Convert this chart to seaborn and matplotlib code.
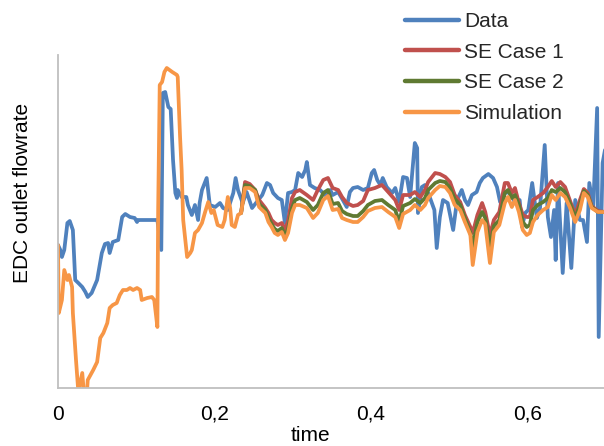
import numpy as np
import pandas as pd
import matplotlib
matplotlib.use("Agg")
import matplotlib.pyplot as plt
import seaborn as sns

# ---------------- data ----------------
data_t = [0.000, 0.003, 0.005, 0.008, 0.012, 0.015, 0.019, 0.022, 0.026, 0.031, 0.035, 0.038,
          0.043, 0.050, 0.056, 0.060, 0.064, 0.066, 0.070, 0.077, 0.082, 0.086, 0.092, 0.098,
          0.101, 0.102, 0.127, 0.132, 0.134, 0.137, 0.141, 0.144, 0.147, 0.150, 0.152, 0.153,
          0.158, 0.164, 0.166, 0.171, 0.175, 0.179, 0.181, 0.184, 0.190, 0.194, 0.201, 0.207,
          0.211, 0.217, 0.224, 0.227, 0.230, 0.236, 0.241, 0.248, 0.254, 0.261, 0.267, 0.271,
          0.275, 0.281, 0.286, 0.290, 0.294, 0.299, 0.303, 0.307, 0.312, 0.316, 0.318, 0.322,
          0.328, 0.335, 0.341, 0.348, 0.351, 0.358, 0.364, 0.369, 0.373, 0.377, 0.383, 0.390,
          0.396, 0.401, 0.404, 0.408, 0.412, 0.415, 0.420, 0.427, 0.431, 0.436, 0.441, 0.446,
          0.450, 0.456, 0.459, 0.460, 0.465, 0.469, 0.475, 0.481, 0.484, 0.488, 0.492, 0.498,
          0.505, 0.510, 0.516, 0.520, 0.524, 0.529, 0.535, 0.539, 0.543, 0.550, 0.556, 0.561,
          0.565, 0.571, 0.578, 0.584, 0.590, 0.593, 0.597, 0.601, 0.606, 0.612, 0.616, 0.622,
          0.626, 0.630, 0.634, 0.636, 0.639, 0.645, 0.650, 0.656, 0.661, 0.667, 0.671, 0.676,
          0.679, 0.684, 0.689, 0.691, 0.696, 0.699]
data_v = [143, 138, 131, 138, 165, 167, 158, 108, 105, 101, 96, 91,
          95, 108, 135, 144, 145, 135, 146, 148, 171, 174, 171, 170,
          166, 168, 168, 138, 295, 296, 281, 279, 228, 195, 190, 198,
          191, 191, 183, 173, 183, 168, 185, 198, 210, 183, 181, 185,
          180, 178, 195, 210, 198, 185, 196, 180, 186, 193, 205, 203,
          195, 190, 188, 165, 195, 196, 198, 215, 211, 218, 226, 203,
          200, 198, 193, 198, 193, 196, 188, 181, 196, 200, 201, 198,
          200, 215, 218, 208, 203, 210, 201, 195, 200, 186, 211, 210,
          191, 245, 240, 175, 201, 203, 191, 178, 140, 171, 188, 185,
          158, 188, 198, 188, 183, 193, 196, 205, 210, 214, 210, 201,
          186, 195, 196, 185, 188, 161, 175, 178, 205, 170, 180, 243,
          171, 151, 178, 128, 205, 115, 185, 120, 188, 168, 168, 146,
          205, 181, 280, 51, 225, 238]

sim_early_t = [0.000, 0.001, 0.005, 0.008, 0.012, 0.014, 0.018, 0.019, 0.023, 0.026, 0.031, 0.033,
               0.037, 0.038, 0.045, 0.050, 0.054, 0.058, 0.063, 0.066, 0.070, 0.075, 0.079, 0.083,
               0.088, 0.092, 0.096, 0.101, 0.105, 0.107, 0.114, 0.120, 0.123, 0.127, 0.128, 0.130,
               0.133, 0.136, 0.139, 0.146, 0.152, 0.153, 0.156, 0.158, 0.160, 0.165, 0.169, 0.171,
               0.175, 0.179, 0.184, 0.188, 0.192, 0.196, 0.199, 0.204, 0.210, 0.213, 0.217, 0.220,
               0.222, 0.226, 0.230]
sim_early_v = [143, 75, 88, 118, 108, 113, 101, 75, 28, -4, 15, -4,
               -4, 8, 18, 26, 50, 55, 65, 80, 83, 85, 93, 98,
               98, 100, 98, 100, 98, 88, 90, 91, 88, 61, 178, 303,
               306, 316, 320, 316, 313, 311, 251, 218, 168, 131, 135, 138,
               155, 158, 165, 176, 186, 175, 178, 163, 161, 168, 191, 180,
               163, 161, 173]

sim_t = [0.234, 0.239, 0.245, 0.252, 0.257, 0.265, 0.269, 0.273, 0.277, 0.281, 0.286, 0.290,
         0.294, 0.299, 0.303, 0.309, 0.318, 0.326, 0.332, 0.339, 0.345, 0.351, 0.358, 0.363,
         0.369, 0.377, 0.383, 0.390, 0.396, 0.405, 0.414, 0.422, 0.431, 0.436, 0.441, 0.450,
         0.456, 0.463, 0.469, 0.473, 0.482, 0.488, 0.495, 0.501, 0.507, 0.514, 0.520, 0.527,
         0.530, 0.536, 0.542, 0.546, 0.552, 0.557, 0.564, 0.571, 0.575, 0.580, 0.584, 0.589,
         0.594, 0.599, 0.603, 0.607, 0.613, 0.620, 0.626, 0.631, 0.636, 0.642, 0.648, 0.654,
         0.661, 0.667, 0.672, 0.677, 0.682, 0.690, 0.699]
simulation_v = [175, 200, 200, 196, 181, 175, 166, 161, 155, 153, 156, 148,
                155, 175, 183, 183, 180, 170, 175, 188, 192, 178, 179, 170,
                168, 166, 166, 171, 177, 180, 181, 176, 171, 160, 174, 178,
                183, 178, 183, 190, 198, 202, 201, 195, 183, 178, 166, 153,
                123, 156, 168, 164, 125, 156, 163, 185, 191, 181, 188, 176,
                158, 153, 155, 166, 173, 178, 181, 193, 188, 195, 191, 181,
                166, 178, 195, 191, 180, 176, 176]
se2_v = [175, 203, 202, 198, 184, 178, 170, 164, 159, 157, 160, 152,
         159, 180, 188, 190, 186, 178, 183, 195, 198, 184, 185, 177,
         174, 172, 172, 177, 183, 187, 188, 183, 178, 166, 182, 185,
         189, 185, 190, 198, 205, 207, 206, 200, 189, 183, 170, 155,
         141, 166, 176, 170, 141, 162, 168, 195, 198, 190, 193, 183,
         166, 161, 163, 178, 183, 186, 190, 198, 196, 200, 196, 185,
         170, 183, 197, 193, 181, 176, 176]
se1_v = [175, 206, 204, 198, 188, 180, 175, 168, 165, 163, 165, 158,
         167, 190, 196, 198, 193, 188, 198, 208, 210, 200, 198, 191,
         185, 182, 183, 187, 198, 200, 203, 196, 188, 178, 193, 193,
         196, 191, 198, 206, 215, 214, 211, 206, 193, 186, 173, 161,
         155, 173, 185, 176, 153, 168, 176, 205, 205, 195, 200, 185,
         173, 171, 171, 188, 191, 195, 201, 207, 201, 206, 201, 188,
         173, 188, 199, 195, 182, 177, 176]

series_names = ["Data", "SE Case 1", "SE Case 2", "Simulation"]
series_colors = ["#4F81BD", "#C0504D", "#5F7A32", "#F79646"]
x_ticks = [0, 0.2, 0.4, 0.6]
x_tick_labels = ["0", "0,2", "0,4", "0,6"]

# ---------------- build frame ----------------
frames = [
    pd.DataFrame({"time": data_t, "flow": data_v, "series": "Data"}),
    pd.DataFrame({"time": sim_t, "flow": se1_v, "series": "SE Case 1"}),
    pd.DataFrame({"time": sim_t, "flow": se2_v, "series": "SE Case 2"}),
    pd.DataFrame({"time": sim_early_t + sim_t, "flow": sim_early_v + simulation_v,
                  "series": "Simulation"}),
]
df = pd.concat(frames, ignore_index=True)

sns.set_theme(style="white")
plt.rcParams["font.family"] = ["Liberation Sans", "DejaVu Sans"]

fig = plt.figure(figsize=(6.04, 4.46), dpi=100)
ax = fig.add_axes([58 / 604, 58 / 446, 546 / 604, 333 / 446])

for name, col in zip(series_names, series_colors):
    sub = df[df["series"] == name]
    sns.lineplot(data=sub, x="time", y="flow", color=col, lw=2.7, sort=False,
                 estimator=None, ax=ax, label=name, legend=False,
                 solid_joinstyle="round")

ax.set_xlim(0, 546 / 782.5)
ax.set_ylim(0, 333)
ax.set_xticks(x_ticks)
ax.set_xticklabels(x_tick_labels, fontsize=15, color="#000000")
ax.set_yticks([])
ax.tick_params(axis="x", length=0, pad=12)
ax.set_xlabel("time", fontsize=15, color="#000000", labelpad=2)
ax.set_ylabel("EDC outlet flowrate", fontsize=15, color="#000000", labelpad=19)
ax.xaxis.label.set_x(0.4615)
ax.yaxis.label.set_y(0.586)
for s in ["top", "right"]:
    ax.spines[s].set_visible(False)
for s in ["left", "bottom"]:
    ax.spines[s].set_color("#BFBFBF")
    ax.spines[s].set_linewidth(1.3)

handles = ax.get_lines()[:4]
leg = fig.legend(handles, series_names, loc="upper left",
                 bbox_to_anchor=(405 / 604, 1 - 12 / 446), frameon=False,
                 fontsize=15, handlelength=2.6, handletextpad=0.25,
                 labelspacing=0.56, borderpad=0, borderaxespad=0)
for lh in leg.get_lines():
    lh.set_linewidth(3.2)

fig.savefig("out.png", dpi=100)
